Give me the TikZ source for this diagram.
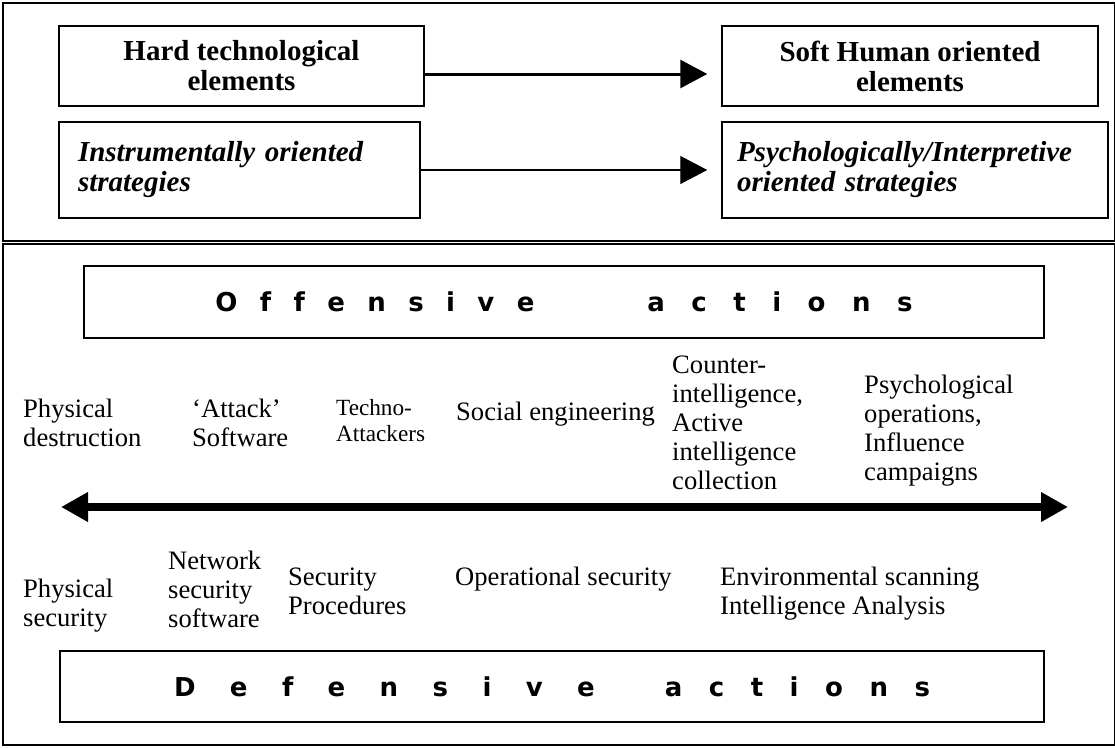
\documentclass[tikz,border=0pt]{standalone}
\usepackage{fontspec}
\setmainfont{Liberation Serif}
\setsansfont{DejaVu Sans}
\usepackage{tikz}
\usetikzlibrary{positioning, arrows.meta}
% letras separadas: #1 = separacion, #2 = lista de letras
\newcommand{\spreadword}[2]{\foreach \ch [count=\k] in {#2}{\ifnum\k>1 \hspace{#1}\fi\ch}}
% varias lineas, linea base = primera linea
\newcommand{\linestack}[1]{\begin{tabular}[t]{@{}l@{}}#1\end{tabular}}
\tikzset{
    box_element/.style={rectangle, draw, line width=1.5pt, inner sep=0pt, minimum height=80pt, align=center, font=\fontsize{29}{30}\selectfont\bfseries},
    box_strategy/.style={rectangle, draw, line width=1.5pt, inner ysep=0pt, minimum height=96pt, align=left, font=\fontsize{29}{30}\selectfont\bfseries\itshape},
    box_action/.style={rectangle, draw, line width=1.3pt, inner sep=0pt, font=\fontsize{26}{28}\selectfont\sffamily\bfseries},
    label_item/.style={anchor=base west, inner sep=0pt, font=\fontsize{26.6}{29}\selectfont},
    label_small/.style={label_item, font=\fontsize{23.2}{26}\selectfont},
    panel_frame/.style={line width=1.3pt},
    flecha/.style={-{Triangle[length=27pt, width=28pt]}, line width=3pt},
    flecha_fina/.style={-{Triangle[length=27pt, width=28pt]}, line width=1.3pt},
    flecha_eje/.style={{Triangle[length=27pt, width=28pt]}-{Triangle[length=27pt, width=28pt]}, line width=8.7pt}
}

\begin{document}
\begin{tikzpicture}[x=1pt, y=-1pt]
    \useasboundingbox (0,0) rectangle (1115,747);

    % --- MARCOS ---
    \draw[panel_frame] (3,3) rectangle (1115,241);
    \draw[panel_frame] (3,244) rectangle (1115,745);

    % 1. Elementos
    \node[box_element, minimum width=365pt] (hard) at (241.5,66) {Hard technological\\elements};
    \node[box_element, minimum width=376pt] (soft) at (910,66) {Soft Human oriented\\elements};

    % 2. Estrategias
    \node[box_strategy, text width=323pt, inner xsep=19pt] (instr) at (239.5,170) {Instrumentally oriented\\strategies};
    \node[box_strategy, text width=356pt, inner xsep=15pt] (psych) at (915,170) {Psychologically/Interpretive\\oriented strategies};

    \draw[flecha] ([yshift=-8pt]hard.east) -- ([yshift=-8pt, xshift=-14pt]soft.west);
    \draw[flecha_fina] (instr.east) -- ([xshift=-14pt]psych.west);

    % 3. Acciones ofensivas
    \node[box_action, minimum width=960pt, minimum height=72pt] (offense) at (564,302)
        {\spreadword{22.4pt}{O,f,f,e,n,s,i,v,e}\hspace{113pt}\spreadword{26.5pt}{a,c,t,i,o,n,s}};

    \node[label_item] (phys_destr) at (23,417) {\linestack{Physical\\destruction}};
    \node[label_item] (attack_sw) at (192,417) {\linestack{‘Attack’\\Software}};
    \node[label_small] (techno) at (336,415) {\linestack{Techno-\\Attackers}};
    \node[label_item] (social) at (456,420) {Social engineering};
    \node[label_item] (counter) at (672,373) {\linestack{Counter-\\intelligence,\\Active\\intelligence\\collection}};
    \node[label_item] (psyops) at (864,393) {\linestack{Psychological\\operations,\\Influence\\campaigns}};

    % --- EJE ---
    \coordinate (axis_left) at (61,507);
    \coordinate (axis_right) at (1068,507);
    \draw[flecha_eje] (axis_left) -- (axis_right);

    % 4. Acciones defensivas
    \node[label_item] (phys_sec) at (23,597) {\linestack{Physical\\security}};
    \node[label_item] (net_sec) at (168,569) {\linestack{Network\\security\\software}};
    \node[label_item] (sec_proc) at (288,585) {\linestack{Security\\Procedures}};
    \node[label_item] (op_sec) at (455,585) {Operational security};
    \node[label_item] (env_scan) at (720,585) {\linestack{Environmental scanning\\Intelligence Analysis}};

    \node[box_action, minimum width=984pt, minimum height=71pt] (defense) at (552,686.5)
        {\spreadword{34.4pt}{D,e,f,e,n,s,i,v,e}\hspace{70pt}\spreadword{26.5pt}{a,c,t,i,o,n,s}};

\end{tikzpicture}
\end{document}
